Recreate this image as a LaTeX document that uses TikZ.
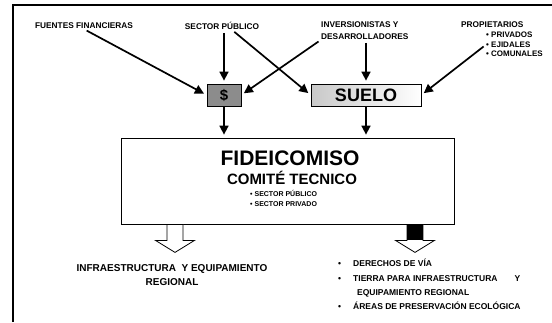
\documentclass[tikz,border=0pt]{standalone}
\usepackage{fontspec}
\setmainfont{Liberation Sans}
\usetikzlibrary{arrows.meta,shadows}
\definecolor{pesogris}{RGB}{140,140,140}
\definecolor{suelogris}{RGB}{200,200,200}

\begin{document}
\begin{tikzpicture}[
    x=1pt, y=-1pt,
    label/.style={font=\bfseries\fontsize{8.3}{11.5}\selectfont, inner sep=0pt},
    lista/.style={font=\bfseries\fontsize{8.5}{14.4}\selectfont, inner sep=0pt, align=left},
    box/.style={rectangle, draw=black, line width=0.8pt, inner sep=0pt},
    arrow/.style={-{Triangle[length=9pt,width=9pt]}, line width=1.7pt, shorten >=3pt, shorten <=3pt},
    hueca/.style={draw=black, line width=0.8pt, fill=white, line join=miter}
]
    \useasboundingbox (0,0) rectangle (552,322);
    \draw[line width=2.2pt] (13,322) -- (13,5) -- (552,5);

    \node[label] (fuentes) at (84,26) {FUENTES FINANCIERAS};
    \node[label] (sectorpub) at (222,26) {SECTOR PÚBLICO};
    \node[label, align=left, anchor=north west] (inversion) at (321,22) {INVERSIONISTAS Y\\DESARROLLADORES};
    \node[label, anchor=north west] (propiet) at (461,22) {PROPIETARIOS};
    \node[label, align=left, anchor=north west, font=\bfseries\fontsize{8}{9.6}\selectfont] (items) at (486,32) {• PRIVADOS\\• EJIDALES\\• COMUNALES};

    \node[box, fill=pesogris, minimum width=34pt, minimum height=22pt, font=\bfseries\fontsize{15}{15}\selectfont] (dinero) at (224,95) {\$};
    \node[box, left color=suelogris, right color=white, minimum width=110pt, minimum height=22pt,
        drop shadow={shadow xshift=1pt, shadow yshift=-1pt, opacity=1, fill=black},
        font=\bfseries\fontsize{18}{18}\selectfont] (suelo) at (366,95) {SUELO};

    \node[box, fill=white, minimum width=333pt, minimum height=86pt,
        drop shadow={shadow xshift=1.2pt, shadow yshift=-1.2pt, opacity=1, fill=black}] (fide) at (287.5,181) {};
    \node[inner sep=0pt, font=\bfseries\fontsize{21}{21}\selectfont] (titulo) at (290,158) {FIDEICOMISO};
    \node[inner sep=0pt, font=\bfseries\fontsize{15}{15}\selectfont] (comite) at (292,178) {COMITÉ TECNICO};
    \node[inner sep=0pt, align=left, anchor=north west, font=\bfseries\fontsize{7}{10}\selectfont] (sectores) at (250,190) {• SECTOR PÚBLICO\\• SECTOR PRIVADO};

    \draw[arrow] (fuentes.south) -- (dinero.west);
    \draw[arrow] (sectorpub.south -| dinero.north) -- (dinero.north);
    \draw[arrow] ([xshift=10pt]sectorpub.south) -- (suelo.west);
    \draw[arrow] (inversion.south west) -- (dinero.east);
    \draw[arrow] (inversion.south -| suelo.north) -- (suelo.north);
    \draw[arrow] (items.west) -- (suelo.east);
    \draw[arrow, shorten <=0pt] (dinero.south) -- (dinero.south |- fide.north);
    \draw[arrow, shorten <=0pt] (suelo.south) -- (suelo.south |- fide.north);

    \coordinate (izq) at (fide.south -| 175,0);
    \coordinate (der) at (fide.south -| 415,0);
    \draw[hueca] (izq) ++(-8,0) -- ++(0,16) -- ++(-11.5,0) -- ++(19.5,12) -- ++(19.5,-12) -- ++(-11.5,0) -- ++(0,-16) -- cycle;
    \draw[hueca] (der) ++(-8,0) -- ++(0,16) -- ++(-11.5,0) -- ++(19.5,12) -- ++(19.5,-12) -- ++(-11.5,0) -- ++(0,-16) -- cycle;
    \fill (der) ++(-8,0) rectangle ++(16,16);

    \node[lista, align=center, font=\bfseries\fontsize{10}{13.5}\selectfont] (infra) at (172,275) {INFRAESTRUCTURA \ Y EQUIPAMIENTO\\REGIONAL};
    \node[lista, anchor=north west] (derechos) at (338,259) {\makebox[15pt][l]{•}DERECHOS DE VÍA\\\makebox[15pt][l]{•}TIERRA PARA INFRAESTRUCTURA\hspace*{17pt}Y\\\hspace*{19pt}EQUIPAMIENTO REGIONAL\\\makebox[15pt][l]{•}ÁREAS DE PRESERVACIÓN ECOLÓGICA};
\end{tikzpicture}
\end{document}
